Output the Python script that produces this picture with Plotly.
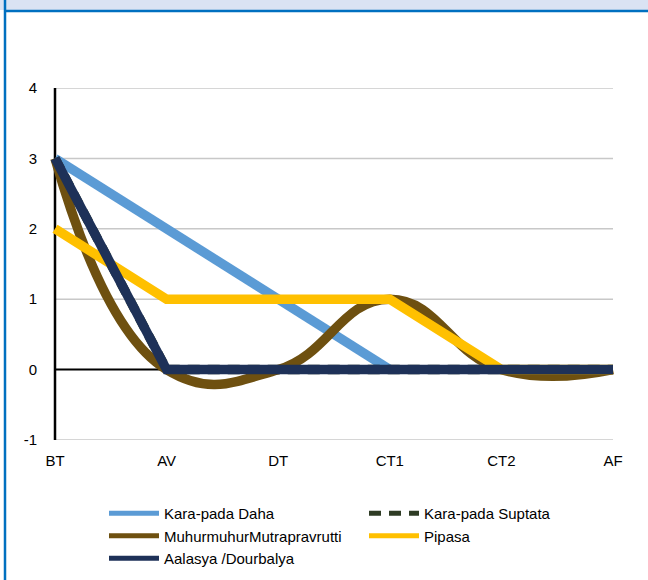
import plotly.graph_objects as go

# Assessment points along the x-axis
stages = ["BT", "AV", "DT", "CT1", "CT2", "AF"]

# Symptom scores per stage
kara_pada_daha = [3, 2, 1, 0, None, None]
kara_pada_suptata = [3, 0, 0, 0, 0, 0]
muhurmuhur = [3, 0, 0, 1, 0, 0]
pipasa = [2, 1, 1, 1, 0, 0]
aalasya = [3, 0, 0, 0, 0, 0]

y_ticks = [-1, 0, 1, 2, 3, 4]
y_tick_text = ["-1", "0", "1", "2", "3", "4"]

W, H = 648, 580
AX_LEFT, AX_RIGHT = 55, 613      # pixel x of first / last category
AX_TOP, AX_BOTTOM = 88, 440      # pixel y of y=4 / y=-1
PAD = 5                          # extra room so thick lines are not clipped
FONT_SIZE = 15

unit = (AX_RIGHT - AX_LEFT) / (len(stages) - 1)
pad_u = PAD / unit
ml, mr = AX_LEFT - PAD, W - AX_RIGHT - PAD
mt, mb = AX_TOP, H - AX_BOTTOM
plot_w = W - ml - mr
plot_h = H - mt - mb


def px_x(px):
    return (px - ml) / plot_w


def px_y(py):
    return (H - mb - py) / plot_h


fig = go.Figure()

series = [
    ("Kara-pada Daha", kara_pada_daha, "#5B9BD5", "solid", "linear"),
    ("Kara-pada Suptata", kara_pada_suptata, "#2E3B24", "12px,8px", "linear"),
    ("MuhurmuhurMutrapravrutti", muhurmuhur, "#6E5010", "solid", "spline"),
    ("Pipasa", pipasa, "#FFC000", "solid", "linear"),
    ("Aalasya /Dourbalya", aalasya, "#1E3158", "solid", "linear"),
]

for name, vals, color, dash, shape in series:
    line = dict(color=color, width=9.5, dash=dash, shape=shape)
    if shape == "spline":
        line["smoothing"] = 1.3
    fig.add_trace(go.Scatter(
        x=stages, y=vals, name=name, mode="lines", legendgroup=name,
        line=line, connectgaps=False, showlegend=False,
    ))

# legend keys drawn with a thinner stroke than the plotted lines
for name, vals, color, dash, shape in series:
    fig.add_trace(go.Scatter(
        x=[None], y=[None], name=name, mode="lines", legendgroup=name,
        line=dict(color=color, width=5, dash=dash), showlegend=True,
    ))

shapes = []
# light horizontal gridlines
for v in y_ticks:
    if v == 0:
        continue
    shapes.append(dict(type="line", xref="x", yref="y", x0=0, x1=len(stages) - 1,
                       y0=v, y1=v, line=dict(color="#C8C8C8", width=1.5), layer="below"))
# zero line and vertical axis line
shapes.append(dict(type="line", xref="x", yref="y", x0=0, x1=len(stages) - 1,
                   y0=0, y1=0, line=dict(color="#000000", width=2), layer="below"))
shapes.append(dict(type="line", xref="x", yref="y", x0=0, x1=0,
                   y0=-1, y1=4, line=dict(color="#000000", width=2.5), layer="below"))
# header band and frame
shapes.append(dict(type="rect", xref="paper", yref="paper",
                   x0=px_x(0), x1=px_x(W), y0=px_y(10), y1=px_y(0),
                   fillcolor="#DAE3F3", line=dict(width=0), layer="below"))
shapes.append(dict(type="line", xref="paper", yref="paper",
                   x0=px_x(4), x1=px_x(W), y0=px_y(11), y1=px_y(11),
                   line=dict(color="#0070C0", width=2.5)))
shapes.append(dict(type="line", xref="paper", yref="paper",
                   x0=px_x(5), x1=px_x(5), y0=px_y(0), y1=px_y(H),
                   line=dict(color="#0070C0", width=2.5)))

fig.update_layout(
    width=W, height=H,
    margin=dict(l=ml, r=mr, t=mt, b=mb, pad=0, autoexpand=False),
    paper_bgcolor="#FFFFFF", plot_bgcolor="#FFFFFF",
    font=dict(family="Liberation Sans, Arial, sans-serif", size=FONT_SIZE, color="#000000"),
    shapes=shapes,
    showlegend=True,
    legend=dict(
        orientation="h", x=px_x(104), y=px_y(497), xanchor="left", yanchor="top",
        entrywidth=195, entrywidthmode="pixels", itemwidth=50,
        font=dict(size=FONT_SIZE), bgcolor="rgba(0,0,0,0)", tracegroupgap=0,
    ),
    xaxis=dict(
        type="category", range=[-pad_u, len(stages) - 1 + pad_u],
        showgrid=False, zeroline=False, showline=False, ticks="",
        ticklabelstandoff=10, tickfont=dict(size=FONT_SIZE),
        fixedrange=True,
    ),
    yaxis=dict(
        range=[-1, 4], tickvals=y_ticks, ticktext=y_tick_text,
        showgrid=False, zeroline=False,
        showline=False, ticks="", ticklabelstandoff=12, tickfont=dict(size=FONT_SIZE),
        fixedrange=True,
    ),
)

fig.write_html("out.html", config=dict(displayModeBar=False))
